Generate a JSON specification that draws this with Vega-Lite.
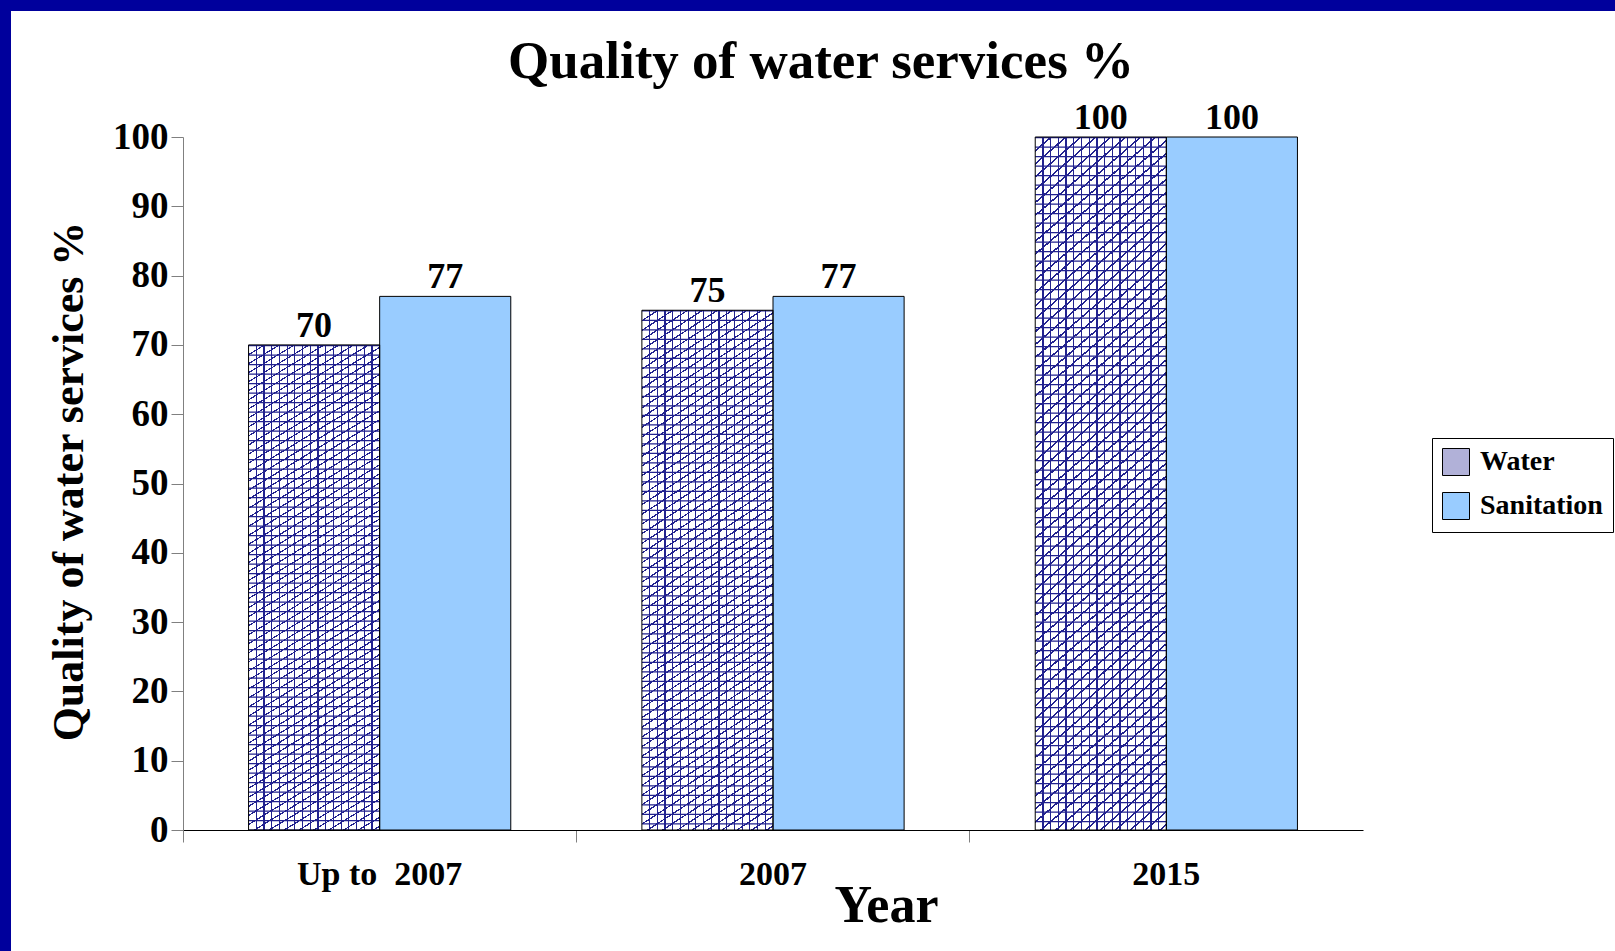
{
  "$schema": "https://vega.github.io/schema/vega-lite/v6.json",
  "width": 1604,
  "height": 940,
  "autosize": {"type": "none"},
  "padding": {"left": 11, "top": 11, "right": 0, "bottom": 0},
  "background": "#00009c",
  "config": {
    "font": "Liberation Serif",
    "view": {"fill": "white", "stroke": null}
  },
  "title": {
    "text": "Quality of water services %",
    "font": "Liberation Serif",
    "fontWeight": "bold",
    "fontSize": 53,
    "color": "black",
    "anchor": "middle",
    "frame": "group",
    "baseline": "alphabetic",
    "offset": -120,
    "dx": 8
  },
  "data": {
    "values": [
      {"year": "Up to  2007", "series": "Water", "value": 70},
      {"year": "Up to  2007", "series": "Sanitation", "value": 77},
      {"year": "2007", "series": "Water", "value": 75},
      {"year": "2007", "series": "Sanitation", "value": 77},
      {"year": "2015", "series": "Water", "value": 100},
      {"year": "2015", "series": "Sanitation", "value": 100}
    ]
  },
  "encoding": {
    "x": {
      "field": "year",
      "type": "nominal",
      "sort": ["Up to  2007", "2007", "2015"],
      "scale": {"type": "band", "range": [172, 1352], "paddingInner": 0, "paddingOuter": 0},
      "axis": {
        "title": "Year",
        "bandPosition": 0,
        "labelExpr": "replace(datum.label, '  ', ' \u00a0')",
        "offset": -121,
        "grid": false,
        "domainColor": "black",
        "domainWidth": 1,
        "tickColor": "#808080",
        "tickSize": 12,
        "labelAngle": 0,
        "labelFont": "Liberation Serif",
        "labelFontSize": 34,
        "labelFontWeight": "bold",
        "labelColor": "black",
        "labelBaseline": "alphabetic",
        "labelPadding": 42,
        "titleFont": "Liberation Serif",
        "titleFontSize": 52,
        "titleFontWeight": "bold",
        "titleColor": "black",
        "titleX": 875,
        "titleY": 91,
        "titleAlign": "center",
        "titleBaseline": "alphabetic"
      }
    },
    "xOffset": {
      "field": "series",
      "type": "nominal",
      "sort": ["Water", "Sanitation"],
      "scale": {"domain": ["Water", "Sanitation"], "paddingInner": 0, "paddingOuter": 0.5}
    },
    "y": {
      "field": "value",
      "type": "quantitative",
      "scale": {"domain": [0, 100], "range": [819, 126], "nice": false},
      "axis": {
        "title": "Quality of water services %",
        "offset": -172,
        "values": [0, 10, 20, 30, 40, 50, 60, 70, 80, 90, 100],
        "grid": false,
        "domainColor": "#808080",
        "tickColor": "#808080",
        "tickSize": 12,
        "labelFont": "Liberation Serif",
        "labelFontSize": 37,
        "labelFontWeight": "bold",
        "labelColor": "black",
        "labelPadding": 3,
        "titleFont": "Liberation Serif",
        "titleFontSize": 44,
        "titleFontWeight": "bold",
        "titleColor": "black",
        "titleAngle": 270,
        "titleX": -114,
        "titleY": 470,
        "titleAlign": "center",
        "titleBaseline": "middle"
      }
    }
  },
  "layer": [
    {
      "transform": [{"filter": "datum.series === 'Water'"}],
      "mark": {"type": "bar", "stroke": null, "fill": "white"}
    },
    {
      "transform": [{"filter": "datum.series === 'Sanitation'"}],
      "mark": {"type": "bar", "stroke": null},
      "encoding": {
        "fill": {
          "field": "series",
          "type": "nominal",
          "sort": ["Water", "Sanitation"],
          "scale": {"domain": ["Water", "Sanitation"], "range": ["#b1b1d8", "#99ccff"]},
          "legend": {
            "orient": "none",
            "legendX": 1421,
            "legendY": 427,
            "title": null,
            "strokeColor": "black",
            "fillColor": "white",
            "padding": 10,
            "cornerRadius": 0,
            "symbolType": "square",
            "symbolSize": 729,
            "symbolStrokeColor": "black",
            "symbolStrokeWidth": 1,
            "symbolOpacity": 1,
            "labelFont": "Liberation Serif",
            "labelFontWeight": "bold",
            "labelFontSize": 28,
            "labelColor": "black",
            "labelOffset": 10,
            "rowPadding": 12
          }
        }
      }
    },
    {
      "transform": [{"filter": "datum.series === 'Water'"}],
      "mark": {"type": "bar", "stroke": null},
      "encoding": {
        "fill": {"value": {"gradient": "linear", "x1": 0, "y1": 0, "x2": 1, "y2": 0, "stops": [
          {"offset": 0, "color": "rgba(0,0,0,0)"},
          {"offset": 0.0543, "color": "rgba(0,0,0,0)"}, {"offset": 0.0543, "color": "#22228f"}, {"offset": 0.0633, "color": "#22228f"}, {"offset": 0.0633, "color": "rgba(0,0,0,0)"},
          {"offset": 0.1131, "color": "rgba(0,0,0,0)"}, {"offset": 0.1131, "color": "#22228f"}, {"offset": 0.1221, "color": "#22228f"}, {"offset": 0.1221, "color": "rgba(0,0,0,0)"},
          {"offset": 0.172, "color": "rgba(0,0,0,0)"}, {"offset": 0.172, "color": "#22228f"}, {"offset": 0.181, "color": "#22228f"}, {"offset": 0.181, "color": "rgba(0,0,0,0)"},
          {"offset": 0.2308, "color": "rgba(0,0,0,0)"}, {"offset": 0.2308, "color": "#22228f"}, {"offset": 0.2398, "color": "#22228f"}, {"offset": 0.2398, "color": "rgba(0,0,0,0)"},
          {"offset": 0.2896, "color": "rgba(0,0,0,0)"}, {"offset": 0.2896, "color": "#22228f"}, {"offset": 0.2986, "color": "#22228f"}, {"offset": 0.2986, "color": "rgba(0,0,0,0)"},
          {"offset": 0.3484, "color": "rgba(0,0,0,0)"}, {"offset": 0.3484, "color": "#22228f"}, {"offset": 0.3574, "color": "#22228f"}, {"offset": 0.3574, "color": "rgba(0,0,0,0)"},
          {"offset": 0.4073, "color": "rgba(0,0,0,0)"}, {"offset": 0.4073, "color": "#22228f"}, {"offset": 0.4163, "color": "#22228f"}, {"offset": 0.4163, "color": "rgba(0,0,0,0)"},
          {"offset": 0.4661, "color": "rgba(0,0,0,0)"}, {"offset": 0.4661, "color": "#22228f"}, {"offset": 0.4751, "color": "#22228f"}, {"offset": 0.4751, "color": "rgba(0,0,0,0)"},
          {"offset": 0.5249, "color": "rgba(0,0,0,0)"}, {"offset": 0.5249, "color": "#22228f"}, {"offset": 0.5339, "color": "#22228f"}, {"offset": 0.5339, "color": "rgba(0,0,0,0)"},
          {"offset": 0.5837, "color": "rgba(0,0,0,0)"}, {"offset": 0.5837, "color": "#22228f"}, {"offset": 0.5927, "color": "#22228f"}, {"offset": 0.5927, "color": "rgba(0,0,0,0)"},
          {"offset": 0.6426, "color": "rgba(0,0,0,0)"}, {"offset": 0.6426, "color": "#22228f"}, {"offset": 0.6516, "color": "#22228f"}, {"offset": 0.6516, "color": "rgba(0,0,0,0)"},
          {"offset": 0.7014, "color": "rgba(0,0,0,0)"}, {"offset": 0.7014, "color": "#22228f"}, {"offset": 0.7104, "color": "#22228f"}, {"offset": 0.7104, "color": "rgba(0,0,0,0)"},
          {"offset": 0.7602, "color": "rgba(0,0,0,0)"}, {"offset": 0.7602, "color": "#22228f"}, {"offset": 0.7692, "color": "#22228f"}, {"offset": 0.7692, "color": "rgba(0,0,0,0)"},
          {"offset": 0.819, "color": "rgba(0,0,0,0)"}, {"offset": 0.819, "color": "#22228f"}, {"offset": 0.828, "color": "#22228f"}, {"offset": 0.828, "color": "rgba(0,0,0,0)"},
          {"offset": 0.8779, "color": "rgba(0,0,0,0)"}, {"offset": 0.8779, "color": "#22228f"}, {"offset": 0.8869, "color": "#22228f"}, {"offset": 0.8869, "color": "rgba(0,0,0,0)"},
          {"offset": 0.9367, "color": "rgba(0,0,0,0)"}, {"offset": 0.9367, "color": "#22228f"}, {"offset": 0.9457, "color": "#22228f"}, {"offset": 0.9457, "color": "rgba(0,0,0,0)"},
          {"offset": 1, "color": "rgba(0,0,0,0)"}
        ]}}
      }
    },
    {
      "transform": [{"filter": "datum.series === 'Water'"}],
      "mark": {"type": "rule", "color": "#22228f", "strokeWidth": 131, "strokeDash": [1.3, 8.2], "strokeCap": "butt"},
      "encoding": {
        "y2": {"datum": 0}
      }
    },
    {
      "transform": [{"filter": "datum.series === 'Water'"}],
      "mark": {"type": "bar", "stroke": null},
      "encoding": {
        "fill": {"value": {"gradient": "linear", "x1": 0, "y1": 0, "x2": 0.186, "y2": 1.1335, "stops": [
          {"offset": 0, "color": "rgba(0,0,0,0)"},
          {"offset": 0.016, "color": "rgba(0,0,0,0)"}, {"offset": 0.016, "color": "#22228f"}, {"offset": 0.0185, "color": "#22228f"}, {"offset": 0.0185, "color": "rgba(0,0,0,0)"},
          {"offset": 0.032, "color": "rgba(0,0,0,0)"}, {"offset": 0.032, "color": "#22228f"}, {"offset": 0.0345, "color": "#22228f"}, {"offset": 0.0345, "color": "rgba(0,0,0,0)"},
          {"offset": 0.048, "color": "rgba(0,0,0,0)"}, {"offset": 0.048, "color": "#22228f"}, {"offset": 0.0505, "color": "#22228f"}, {"offset": 0.0505, "color": "rgba(0,0,0,0)"},
          {"offset": 0.064, "color": "rgba(0,0,0,0)"}, {"offset": 0.064, "color": "#22228f"}, {"offset": 0.0665, "color": "#22228f"}, {"offset": 0.0665, "color": "rgba(0,0,0,0)"},
          {"offset": 0.08, "color": "rgba(0,0,0,0)"}, {"offset": 0.08, "color": "#22228f"}, {"offset": 0.0825, "color": "#22228f"}, {"offset": 0.0825, "color": "rgba(0,0,0,0)"},
          {"offset": 0.096, "color": "rgba(0,0,0,0)"}, {"offset": 0.096, "color": "#22228f"}, {"offset": 0.0985, "color": "#22228f"}, {"offset": 0.0985, "color": "rgba(0,0,0,0)"},
          {"offset": 0.112, "color": "rgba(0,0,0,0)"}, {"offset": 0.112, "color": "#22228f"}, {"offset": 0.1145, "color": "#22228f"}, {"offset": 0.1145, "color": "rgba(0,0,0,0)"},
          {"offset": 0.128, "color": "rgba(0,0,0,0)"}, {"offset": 0.128, "color": "#22228f"}, {"offset": 0.1305, "color": "#22228f"}, {"offset": 0.1305, "color": "rgba(0,0,0,0)"},
          {"offset": 0.144, "color": "rgba(0,0,0,0)"}, {"offset": 0.144, "color": "#22228f"}, {"offset": 0.1465, "color": "#22228f"}, {"offset": 0.1465, "color": "rgba(0,0,0,0)"},
          {"offset": 0.16, "color": "rgba(0,0,0,0)"}, {"offset": 0.16, "color": "#22228f"}, {"offset": 0.1625, "color": "#22228f"}, {"offset": 0.1625, "color": "rgba(0,0,0,0)"},
          {"offset": 0.176, "color": "rgba(0,0,0,0)"}, {"offset": 0.176, "color": "#22228f"}, {"offset": 0.1785, "color": "#22228f"}, {"offset": 0.1785, "color": "rgba(0,0,0,0)"},
          {"offset": 0.192, "color": "rgba(0,0,0,0)"}, {"offset": 0.192, "color": "#22228f"}, {"offset": 0.1945, "color": "#22228f"}, {"offset": 0.1945, "color": "rgba(0,0,0,0)"},
          {"offset": 0.208, "color": "rgba(0,0,0,0)"}, {"offset": 0.208, "color": "#22228f"}, {"offset": 0.2105, "color": "#22228f"}, {"offset": 0.2105, "color": "rgba(0,0,0,0)"},
          {"offset": 0.224, "color": "rgba(0,0,0,0)"}, {"offset": 0.224, "color": "#22228f"}, {"offset": 0.2265, "color": "#22228f"}, {"offset": 0.2265, "color": "rgba(0,0,0,0)"},
          {"offset": 0.24, "color": "rgba(0,0,0,0)"}, {"offset": 0.24, "color": "#22228f"}, {"offset": 0.2425, "color": "#22228f"}, {"offset": 0.2425, "color": "rgba(0,0,0,0)"},
          {"offset": 0.256, "color": "rgba(0,0,0,0)"}, {"offset": 0.256, "color": "#22228f"}, {"offset": 0.2585, "color": "#22228f"}, {"offset": 0.2585, "color": "rgba(0,0,0,0)"},
          {"offset": 0.272, "color": "rgba(0,0,0,0)"}, {"offset": 0.272, "color": "#22228f"}, {"offset": 0.2745, "color": "#22228f"}, {"offset": 0.2745, "color": "rgba(0,0,0,0)"},
          {"offset": 0.288, "color": "rgba(0,0,0,0)"}, {"offset": 0.288, "color": "#22228f"}, {"offset": 0.2905, "color": "#22228f"}, {"offset": 0.2905, "color": "rgba(0,0,0,0)"},
          {"offset": 0.304, "color": "rgba(0,0,0,0)"}, {"offset": 0.304, "color": "#22228f"}, {"offset": 0.3065, "color": "#22228f"}, {"offset": 0.3065, "color": "rgba(0,0,0,0)"},
          {"offset": 0.32, "color": "rgba(0,0,0,0)"}, {"offset": 0.32, "color": "#22228f"}, {"offset": 0.3225, "color": "#22228f"}, {"offset": 0.3225, "color": "rgba(0,0,0,0)"},
          {"offset": 0.336, "color": "rgba(0,0,0,0)"}, {"offset": 0.336, "color": "#22228f"}, {"offset": 0.3385, "color": "#22228f"}, {"offset": 0.3385, "color": "rgba(0,0,0,0)"},
          {"offset": 0.352, "color": "rgba(0,0,0,0)"}, {"offset": 0.352, "color": "#22228f"}, {"offset": 0.3545, "color": "#22228f"}, {"offset": 0.3545, "color": "rgba(0,0,0,0)"},
          {"offset": 0.368, "color": "rgba(0,0,0,0)"}, {"offset": 0.368, "color": "#22228f"}, {"offset": 0.3705, "color": "#22228f"}, {"offset": 0.3705, "color": "rgba(0,0,0,0)"},
          {"offset": 0.384, "color": "rgba(0,0,0,0)"}, {"offset": 0.384, "color": "#22228f"}, {"offset": 0.3865, "color": "#22228f"}, {"offset": 0.3865, "color": "rgba(0,0,0,0)"},
          {"offset": 0.4, "color": "rgba(0,0,0,0)"}, {"offset": 0.4, "color": "#22228f"}, {"offset": 0.4025, "color": "#22228f"}, {"offset": 0.4025, "color": "rgba(0,0,0,0)"},
          {"offset": 0.416, "color": "rgba(0,0,0,0)"}, {"offset": 0.416, "color": "#22228f"}, {"offset": 0.4185, "color": "#22228f"}, {"offset": 0.4185, "color": "rgba(0,0,0,0)"},
          {"offset": 0.432, "color": "rgba(0,0,0,0)"}, {"offset": 0.432, "color": "#22228f"}, {"offset": 0.4345, "color": "#22228f"}, {"offset": 0.4345, "color": "rgba(0,0,0,0)"},
          {"offset": 0.448, "color": "rgba(0,0,0,0)"}, {"offset": 0.448, "color": "#22228f"}, {"offset": 0.4505, "color": "#22228f"}, {"offset": 0.4505, "color": "rgba(0,0,0,0)"},
          {"offset": 0.464, "color": "rgba(0,0,0,0)"}, {"offset": 0.464, "color": "#22228f"}, {"offset": 0.4665, "color": "#22228f"}, {"offset": 0.4665, "color": "rgba(0,0,0,0)"},
          {"offset": 0.48, "color": "rgba(0,0,0,0)"}, {"offset": 0.48, "color": "#22228f"}, {"offset": 0.4825, "color": "#22228f"}, {"offset": 0.4825, "color": "rgba(0,0,0,0)"},
          {"offset": 0.496, "color": "rgba(0,0,0,0)"}, {"offset": 0.496, "color": "#22228f"}, {"offset": 0.4985, "color": "#22228f"}, {"offset": 0.4985, "color": "rgba(0,0,0,0)"},
          {"offset": 0.512, "color": "rgba(0,0,0,0)"}, {"offset": 0.512, "color": "#22228f"}, {"offset": 0.5145, "color": "#22228f"}, {"offset": 0.5145, "color": "rgba(0,0,0,0)"},
          {"offset": 0.528, "color": "rgba(0,0,0,0)"}, {"offset": 0.528, "color": "#22228f"}, {"offset": 0.5305, "color": "#22228f"}, {"offset": 0.5305, "color": "rgba(0,0,0,0)"},
          {"offset": 0.544, "color": "rgba(0,0,0,0)"}, {"offset": 0.544, "color": "#22228f"}, {"offset": 0.5465, "color": "#22228f"}, {"offset": 0.5465, "color": "rgba(0,0,0,0)"},
          {"offset": 0.56, "color": "rgba(0,0,0,0)"}, {"offset": 0.56, "color": "#22228f"}, {"offset": 0.5625, "color": "#22228f"}, {"offset": 0.5625, "color": "rgba(0,0,0,0)"},
          {"offset": 0.576, "color": "rgba(0,0,0,0)"}, {"offset": 0.576, "color": "#22228f"}, {"offset": 0.5785, "color": "#22228f"}, {"offset": 0.5785, "color": "rgba(0,0,0,0)"},
          {"offset": 0.592, "color": "rgba(0,0,0,0)"}, {"offset": 0.592, "color": "#22228f"}, {"offset": 0.5945, "color": "#22228f"}, {"offset": 0.5945, "color": "rgba(0,0,0,0)"},
          {"offset": 0.608, "color": "rgba(0,0,0,0)"}, {"offset": 0.608, "color": "#22228f"}, {"offset": 0.6105, "color": "#22228f"}, {"offset": 0.6105, "color": "rgba(0,0,0,0)"},
          {"offset": 0.624, "color": "rgba(0,0,0,0)"}, {"offset": 0.624, "color": "#22228f"}, {"offset": 0.6265, "color": "#22228f"}, {"offset": 0.6265, "color": "rgba(0,0,0,0)"},
          {"offset": 0.64, "color": "rgba(0,0,0,0)"}, {"offset": 0.64, "color": "#22228f"}, {"offset": 0.6425, "color": "#22228f"}, {"offset": 0.6425, "color": "rgba(0,0,0,0)"},
          {"offset": 0.656, "color": "rgba(0,0,0,0)"}, {"offset": 0.656, "color": "#22228f"}, {"offset": 0.6585, "color": "#22228f"}, {"offset": 0.6585, "color": "rgba(0,0,0,0)"},
          {"offset": 0.672, "color": "rgba(0,0,0,0)"}, {"offset": 0.672, "color": "#22228f"}, {"offset": 0.6745, "color": "#22228f"}, {"offset": 0.6745, "color": "rgba(0,0,0,0)"},
          {"offset": 0.688, "color": "rgba(0,0,0,0)"}, {"offset": 0.688, "color": "#22228f"}, {"offset": 0.6905, "color": "#22228f"}, {"offset": 0.6905, "color": "rgba(0,0,0,0)"},
          {"offset": 0.704, "color": "rgba(0,0,0,0)"}, {"offset": 0.704, "color": "#22228f"}, {"offset": 0.7065, "color": "#22228f"}, {"offset": 0.7065, "color": "rgba(0,0,0,0)"},
          {"offset": 0.72, "color": "rgba(0,0,0,0)"}, {"offset": 0.72, "color": "#22228f"}, {"offset": 0.7225, "color": "#22228f"}, {"offset": 0.7225, "color": "rgba(0,0,0,0)"},
          {"offset": 0.736, "color": "rgba(0,0,0,0)"}, {"offset": 0.736, "color": "#22228f"}, {"offset": 0.7385, "color": "#22228f"}, {"offset": 0.7385, "color": "rgba(0,0,0,0)"},
          {"offset": 0.752, "color": "rgba(0,0,0,0)"}, {"offset": 0.752, "color": "#22228f"}, {"offset": 0.7545, "color": "#22228f"}, {"offset": 0.7545, "color": "rgba(0,0,0,0)"},
          {"offset": 0.768, "color": "rgba(0,0,0,0)"}, {"offset": 0.768, "color": "#22228f"}, {"offset": 0.7705, "color": "#22228f"}, {"offset": 0.7705, "color": "rgba(0,0,0,0)"},
          {"offset": 0.784, "color": "rgba(0,0,0,0)"}, {"offset": 0.784, "color": "#22228f"}, {"offset": 0.7865, "color": "#22228f"}, {"offset": 0.7865, "color": "rgba(0,0,0,0)"},
          {"offset": 0.8, "color": "rgba(0,0,0,0)"}, {"offset": 0.8, "color": "#22228f"}, {"offset": 0.8025, "color": "#22228f"}, {"offset": 0.8025, "color": "rgba(0,0,0,0)"},
          {"offset": 0.816, "color": "rgba(0,0,0,0)"}, {"offset": 0.816, "color": "#22228f"}, {"offset": 0.8185, "color": "#22228f"}, {"offset": 0.8185, "color": "rgba(0,0,0,0)"},
          {"offset": 0.832, "color": "rgba(0,0,0,0)"}, {"offset": 0.832, "color": "#22228f"}, {"offset": 0.8345, "color": "#22228f"}, {"offset": 0.8345, "color": "rgba(0,0,0,0)"},
          {"offset": 0.848, "color": "rgba(0,0,0,0)"}, {"offset": 0.848, "color": "#22228f"}, {"offset": 0.8505, "color": "#22228f"}, {"offset": 0.8505, "color": "rgba(0,0,0,0)"},
          {"offset": 0.864, "color": "rgba(0,0,0,0)"}, {"offset": 0.864, "color": "#22228f"}, {"offset": 0.8665, "color": "#22228f"}, {"offset": 0.8665, "color": "rgba(0,0,0,0)"},
          {"offset": 0.88, "color": "rgba(0,0,0,0)"}, {"offset": 0.88, "color": "#22228f"}, {"offset": 0.8825, "color": "#22228f"}, {"offset": 0.8825, "color": "rgba(0,0,0,0)"},
          {"offset": 0.896, "color": "rgba(0,0,0,0)"}, {"offset": 0.896, "color": "#22228f"}, {"offset": 0.8985, "color": "#22228f"}, {"offset": 0.8985, "color": "rgba(0,0,0,0)"},
          {"offset": 0.912, "color": "rgba(0,0,0,0)"}, {"offset": 0.912, "color": "#22228f"}, {"offset": 0.9145, "color": "#22228f"}, {"offset": 0.9145, "color": "rgba(0,0,0,0)"},
          {"offset": 0.928, "color": "rgba(0,0,0,0)"}, {"offset": 0.928, "color": "#22228f"}, {"offset": 0.9305, "color": "#22228f"}, {"offset": 0.9305, "color": "rgba(0,0,0,0)"},
          {"offset": 0.944, "color": "rgba(0,0,0,0)"}, {"offset": 0.944, "color": "#22228f"}, {"offset": 0.9465, "color": "#22228f"}, {"offset": 0.9465, "color": "rgba(0,0,0,0)"},
          {"offset": 0.96, "color": "rgba(0,0,0,0)"}, {"offset": 0.96, "color": "#22228f"}, {"offset": 0.9625, "color": "#22228f"}, {"offset": 0.9625, "color": "rgba(0,0,0,0)"},
          {"offset": 0.976, "color": "rgba(0,0,0,0)"}, {"offset": 0.976, "color": "#22228f"}, {"offset": 0.9785, "color": "#22228f"}, {"offset": 0.9785, "color": "rgba(0,0,0,0)"},
          {"offset": 0.992, "color": "rgba(0,0,0,0)"}, {"offset": 0.992, "color": "#22228f"}, {"offset": 0.9945, "color": "#22228f"}, {"offset": 0.9945, "color": "rgba(0,0,0,0)"},
          {"offset": 1, "color": "rgba(0,0,0,0)"}
        ]}}
      }
    },
    {
      "mark": {"type": "bar", "fill": "transparent", "stroke": "black", "strokeWidth": 1}
    },
    {
      "mark": {"type": "text", "dy": -8, "baseline": "alphabetic", "font": "Liberation Serif", "fontSize": 36, "fontWeight": "bold", "color": "black"},
      "encoding": {
        "text": {"field": "value", "type": "quantitative"}
      }
    }
  ]
}
